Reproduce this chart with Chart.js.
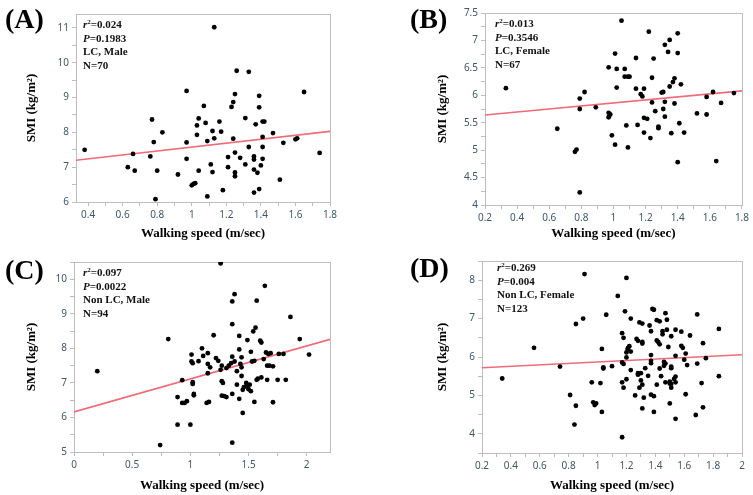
<!DOCTYPE html>
<html>
<head>
<meta charset="utf-8">
<script src="https://cdn.jsdelivr.net/npm/chart.js@4"></script>
<style>
  html, body { margin: 0; padding: 0; background: #fff; overflow: hidden; }
  body { width: 753px; height: 495px; position: relative; }
  canvas { position: absolute; }
  .tag { position: absolute; font: bold 28px "Liberation Serif", serif; line-height: 28px; color: #000; }
  .stats { position: absolute; font: bold 11px "Liberation Serif", serif; line-height: 13.5px; color: #111; }
  .stats sup { font-size: 7px; line-height: 0; vertical-align: 4px; }
</style>
</head>
<body>
<canvas id="chartA" width="334" height="238" style="left:10px;top:5px"></canvas>
<canvas id="chartB" width="331" height="239" style="left:421px;top:4px"></canvas>
<canvas id="chartC" width="334" height="242" style="left:10px;top:253px"></canvas>
<canvas id="chartD" width="331" height="243" style="left:421px;top:252px"></canvas>

<div class="tag" style="left:5px;top:5px">(A)</div>
<div class="tag" style="left:410px;top:5px">(B)</div>
<div class="tag" style="left:5px;top:256px">(C)</div>
<div class="tag" style="left:410px;top:254px">(D)</div>

<div class="stats" style="left:83px;top:18px"><i>r</i><sup>2</sup>=0.024<br><i>P</i>=0.1983<br>LC, Male<br>N=70</div>
<div class="stats" style="left:495px;top:17px"><i>r</i><sup>2</sup>=0.013<br><i>P</i>=0.3546<br>LC, Female<br>N=67</div>
<div class="stats" style="left:83px;top:266px"><i>r</i><sup>2</sup>=0.097<br><i>P</i>=0.0022<br>Non LC, Male<br>N=94</div>
<div class="stats" style="left:497px;top:261px"><i>r</i><sup>2</sup>=0.269<br><i>P</i>=0.004<br>Non LC, Female<br>N=123</div>

<script>
// (A) LC, Male
const speedA = [0.38,0.63,0.66,0.67,0.76,0.77,0.78,0.79,0.8,0.83,0.92,0.97,0.97,0.97,1.0,1.01,1.02,1.03,1.03,1.04,1.04,1.07,1.08,1.09,1.09,1.11,1.12,1.12,1.13,1.13,1.16,1.17,1.18,1.21,1.21,1.23,1.24,1.24,1.25,1.25,1.25,1.25,1.26,1.28,1.31,1.31,1.33,1.33,1.36,1.36,1.36,1.36,1.37,1.38,1.39,1.39,1.39,1.4,1.41,1.41,1.41,1.41,1.42,1.47,1.51,1.53,1.6,1.61,1.65,1.74];
const smiA = [7.5,7.0,7.38,6.9,7.31,8.37,7.72,6.08,6.9,8.0,6.79,9.19,7.71,7.24,6.48,6.52,6.54,8.2,7.93,8.4,6.9,8.76,8.27,7.75,6.16,7.08,8.04,6.86,7.83,11.02,8.31,8.02,6.34,7.29,7.0,8.73,8.87,7.82,9.1,7.42,6.85,6.74,9.77,7.27,8.41,7.08,9.74,7.58,7.22,7.31,6.93,6.27,8.23,6.84,9.05,8.72,6.37,7.05,8.31,7.87,7.58,7.24,8.31,7.98,6.64,7.7,7.8,7.83,9.16,7.41];
const fitXA = [0.33, 1.8];
const fitYA = [7.2, 8.03];

// (B) LC, Female
const speedB = [0.33,0.65,0.76,0.77,0.79,0.79,0.79,0.82,0.89,0.97,0.97,0.98,0.97,0.99,1.01,1.02,1.02,1.01,1.05,1.07,1.07,1.09,1.1,1.08,1.09,1.14,1.14,1.15,1.17,1.18,1.25,1.19,1.19,1.21,1.19,1.22,1.23,1.24,1.24,1.26,1.28,1.28,1.3,1.31,1.31,1.32,1.32,1.32,1.34,1.35,1.35,1.36,1.37,1.38,1.38,1.4,1.4,1.4,1.41,1.42,1.44,1.52,1.58,1.58,1.62,1.64,1.67,1.75];
const smiB = [6.13,5.39,4.97,5.01,5.94,5.75,4.23,6.06,5.78,6.51,5.68,5.65,5.6,5.27,6.76,6.48,6.14,5.1,7.36,6.48,6.34,6.34,6.34,5.45,5.05,6.68,6.12,5.46,6.02,5.98,6.67,6.12,5.59,5.57,5.32,7.16,5.22,6.32,5.87,5.71,5.43,5.4,6.05,6.06,5.75,6.92,5.88,5.61,6.79,7.01,6.16,5.31,6.24,6.31,5.85,7.13,6.77,4.78,5.49,6.2,5.32,5.67,5.97,5.65,6.06,4.8,5.86,6.04];
const fitXB = [0.2, 1.8];
const fitYB = [5.64, 6.08];

// (C) Non LC, Male
const speedC = [0.2,0.81,0.74,0.89,1.0,0.89,0.93,0.93,0.95,0.97,1.01,1.01,1.02,1.02,1.02,1.03,1.03,1.1,1.11,1.15,1.15,1.15,1.17,1.14,1.16,1.2,1.22,1.24,1.26,1.27,1.27,1.28,1.26,1.27,1.29,1.31,1.31,1.33,1.35,1.36,1.36,1.36,1.38,1.36,1.36,1.38,1.4,1.4,1.42,1.42,1.42,1.43,1.44,1.44,1.44,1.45,1.45,1.46,1.48,1.48,1.5,1.51,1.49,1.52,1.52,1.53,1.55,1.54,1.56,1.55,1.57,1.57,1.58,1.6,1.61,1.61,1.64,1.63,1.65,1.67,1.69,1.66,1.68,1.71,1.66,1.71,1.75,1.76,1.8,1.82,1.86,1.94,2.02,1.07];
const smiC = [7.34,8.27,5.2,5.79,5.79,6.59,7.08,6.42,6.42,6.47,7.82,7.62,7.57,6.97,7.02,6.64,6.68,8.0,7.78,7.86,7.28,7.55,7.45,6.42,6.45,8.38,7.72,7.64,7.38,7.5,7.05,7.0,10.46,6.63,6.62,6.59,7.43,7.5,7.57,7.76,8.7,9.36,9.57,6.68,5.27,7.62,7.34,6.95,6.54,8.36,7.97,7.55,7.45,7.74,7.2,6.8,6.13,6.88,7.0,6.9,6.82,6.95,8.24,7.9,6.76,7.62,7.64,8.49,8.6,6.45,9.38,7.09,7.12,8.22,8.17,7.16,9.81,7.69,7.88,7.84,7.86,7.5,7.5,7.48,7.09,6.44,7.09,7.84,7.84,7.09,8.91,8.27,7.82,7.63];
const fitXC = [0, 2.2];
const fitYC = [6.16, 8.26];

// (D) Non LC, Female
const speedD = [0.34,0.56,0.74,0.81,0.84,0.85,0.85,0.9,0.91,0.96,0.97,0.98,0.99,1.06,1.02,1.03,1.03,1.04,1.04,1.1,1.14,1.17,1.17,1.18,1.17,1.18,1.18,1.19,1.2,1.2,1.2,1.21,1.2,1.21,1.22,1.23,1.17,1.23,1.23,1.26,1.27,1.28,1.28,1.28,1.3,1.29,1.3,1.31,1.29,1.31,1.31,1.31,1.31,1.32,1.33,1.35,1.36,1.37,1.37,1.37,1.37,1.37,1.38,1.39,1.39,1.39,1.41,1.41,1.41,1.42,1.43,1.43,1.43,1.44,1.45,1.45,1.46,1.47,1.46,1.47,1.47,1.48,1.48,1.49,1.5,1.5,1.5,1.51,1.51,1.51,1.51,1.51,1.53,1.54,1.54,1.54,1.54,1.54,1.58,1.59,1.58,1.6,1.61,1.61,1.62,1.64,1.68,1.69,1.69,1.72,1.73,1.73,1.75,1.84,1.84];
const smiD = [5.44,6.24,5.75,5.01,4.24,6.86,4.73,7.0,8.16,5.34,4.82,4.75,4.79,7.1,5.32,6.21,4.57,5.7,5.73,5.76,7.59,5.34,6.62,6.5,5.86,5.82,5.2,7.19,8.06,5.99,6.12,6.23,5.42,6.2,6.28,6.14,3.91,7.0,5.66,5.0,6.47,6.42,5.58,5.54,5.58,5.2,5.39,5.28,6.9,6.87,6.39,6.35,4.66,4.94,5.71,5.51,6.82,6.67,6.05,5.9,5.84,5.02,7.25,7.23,4.98,4.57,6.43,6.96,5.28,6.39,6.33,6.93,5.7,5.5,6.59,6.67,5.77,5.83,5.87,7.14,5.34,6.71,6.97,6.26,5.36,5.31,4.79,5.75,5.71,5.2,5.3,6.54,5.43,5.49,6.71,6.03,5.34,4.39,6.29,6.24,6.66,5.93,6.09,5.03,5.79,6.56,4.49,7.11,5.83,5.32,4.69,6.36,5.97,6.73,5.5];
const fitXD = [0.2, 2.0];
const fitYD = [5.72, 6.06];

// labelled ticks per axis (unlabelled minor ticks sit halfway between)
const xLabelsA = [0.4, 0.6, 0.8, 1, 1.2, 1.4, 1.6, 1.8];
const yLabelsA = [6, 7, 8, 9, 10, 11];
const xLabelsB = [0.2, 0.4, 0.6, 0.8, 1, 1.2, 1.4, 1.6, 1.8];
const yLabelsB = [4, 4.5, 5, 5.5, 6, 6.5, 7, 7.5];
const xLabelsC = [0, 0.5, 1, 1.5, 2];
const yLabelsC = [5, 6, 7, 8, 9, 10];
const xLabelsD = [0.2, 0.4, 0.6, 0.8, 1, 1.2, 1.4, 1.6, 1.8, 2];
const yLabelsD = [4, 5, 6, 7, 8];

const TICK_COLOR = '#3f5766';
const AXIS_COLOR = '#bdbdbd';
const FIT_COLOR = '#ef6b78';

// light frame round the plot area
const frame = {
  id: 'frame',
  beforeDatasetsDraw(chart) {
    const { ctx, chartArea: a } = chart;
    ctx.save();
    ctx.strokeStyle = AXIS_COLOR;
    ctx.lineWidth = 1;
    ctx.strokeRect(Math.round(a.left) + 0.5, Math.round(a.top) + 0.5,
      Math.round(a.right - a.left), Math.round(a.bottom - a.top));
    ctx.restore();
  }
};

function withMinors(labels, min, max) {
  const vals = labels.slice();
  for (let i = 0; i < labels.length - 1; i++) vals.push((labels[i] + labels[i + 1]) / 2);
  const step = labels.length > 1 ? labels[1] - labels[0] : 1;
  vals.push(labels[0] - step / 2, labels[labels.length - 1] + step / 2);
  return vals.filter(v => v >= min - 1e-9 && v <= max + 1e-9).sort((a, b) => a - b);
}

function axis(opts) {
  const isX = opts.pos === 'bottom';
  const labelSet = opts.labels.map(v => v.toFixed(3));
  return {
    type: 'linear',
    position: opts.pos,
    min: opts.min,
    max: opts.max,
    afterBuildTicks(scale) {
      scale.ticks = withMinors(opts.labels, opts.min, opts.max).map(v => ({ value: v }));
    },
    afterFit(scale) {
      if (isX) scale.height = opts.size; else scale.width = opts.size;
    },
    grid: { drawOnChartArea: false, drawTicks: true, tickLength: 4, color: AXIS_COLOR },
    border: { display: true, color: AXIS_COLOR },
    ticks: {
      autoSkip: false,
      maxRotation: 0,
      padding: 3,
      color: TICK_COLOR,
      font: { family: '"Noto Sans", sans-serif', size: 10 },
      callback: v => labelSet.includes(v.toFixed(3)) ? String(+v.toFixed(2)) : ''
    },
    title: {
      display: true,
      text: opts.title,
      color: '#000',
      font: { family: '"Liberation Serif", serif', size: 13, weight: 'bold' },
      padding: isX ? { top: 0, bottom: 2 } : { top: 14, bottom: 0 }
    }
  };
}

function makePanel(id, speed, smi, fitX, fitY, cfg) {
  const pts = speed.map((x, i) => ({ x, y: smi[i] }));
  const fit = fitX.map((x, i) => ({ x, y: fitY[i] }));
  return new Chart(document.getElementById(id), {
    type: 'scatter',
    data: {
      datasets: [
        {
          type: 'line',
          data: fit,
          borderColor: FIT_COLOR,
          borderWidth: 1.6,
          pointRadius: 0,
          fill: false,
          order: 1
        },
        {
          data: pts,
          backgroundColor: '#000',
          borderWidth: 0,
          pointRadius: 2.4,
          order: 0
        }
      ]
    },
    options: {
      responsive: false,
      animation: false,
      devicePixelRatio: 1,
      layout: { padding: { top: cfg.padTop, right: cfg.padRight, left: 0, bottom: 0 } },
      plugins: { legend: { display: false }, tooltip: { enabled: false } },
      scales: {
        x: axis({ pos: 'bottom', min: cfg.xMin, max: cfg.xMax, labels: cfg.xLabels, size: cfg.xH, title: 'Walking speed (m/sec)' }),
        y: axis({ pos: 'left', min: cfg.yMin, max: cfg.yMax, labels: cfg.yLabels, size: cfg.yW, title: 'SMI (kg/m²)' })
      }
    },
    plugins: [frame]
  });
}

makePanel('chartA', speedA, smiA, fitXA, fitYA,
  { xMin: 0.33, xMax: 1.8, yMin: 6, yMax: 11.4, xLabels: xLabelsA, yLabels: yLabelsA, padTop: 8, padRight: 14, yW: 66, xH: 41 });
makePanel('chartB', speedB, smiB, fitXB, fitYB,
  { xMin: 0.2, xMax: 1.8, yMin: 4, yMax: 7.5, xLabels: xLabelsB, yLabels: yLabelsB, padTop: 7, padRight: 10, yW: 64, xH: 38 });
makePanel('chartC', speedC, smiC, fitXC, fitYC,
  { xMin: 0, xMax: 2.2, yMin: 5, yMax: 10.5, xLabels: xLabelsC, yLabels: yLabelsC, padTop: 8, padRight: 14, yW: 64, xH: 43 });
makePanel('chartD', speedD, smiD, fitXD, fitYD,
  { xMin: 0.2, xMax: 2.0, yMin: 3.5, yMax: 8.5, xLabels: xLabelsD, yLabels: yLabelsD, padTop: 8, padRight: 10, yW: 61, xH: 42 });
</script>
</body>
</html>
